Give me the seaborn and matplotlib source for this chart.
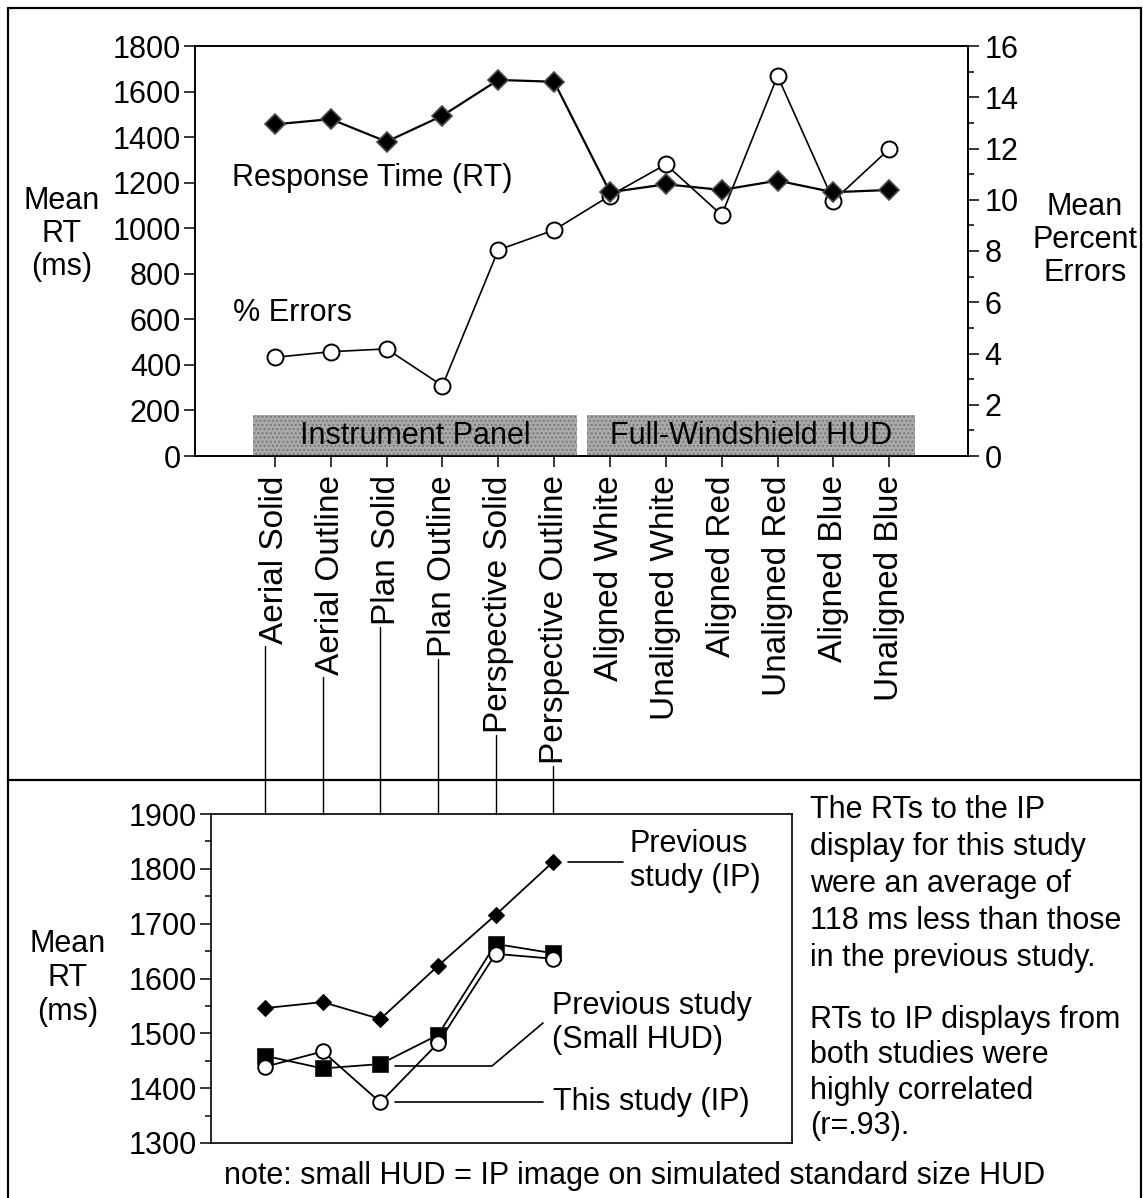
import numpy as np
import pandas as pd
import matplotlib
matplotlib.use("Agg")
import matplotlib.pyplot as plt
import seaborn as sns
from matplotlib.lines import Line2D
from matplotlib.patches import Rectangle
from matplotlib.ticker import MultipleLocator

# ---- data -------------------------------------------------------------
categories = ["Aerial Solid", "Aerial Outline", "Plan Solid", "Plan Outline",
              "Perspective Solid", "Perspective Outline", "Aligned White",
              "Unaligned White", "Aligned Red", "Unaligned Red",
              "Aligned Blue", "Unaligned Blue"]
rt_ms = [1456, 1479, 1380, 1494, 1651, 1643, 1158, 1193, 1168, 1209, 1158, 1168]
error_pct = [3.85, 4.07, 4.18, 2.74, 8.04, 8.82, 10.16, 11.38, 9.40, 14.83, 9.96, 11.98]

band_labels = ["Instrument Panel", "Full-Windshield HUD"]

ip_conditions = categories[:6]
prev_ip_rt = [1546, 1557, 1526, 1623, 1716, 1813]
prev_small_hud_rt = [1459, 1436, 1444, 1497, 1663, 1646]
this_ip_rt = [1439, 1467, 1374, 1482, 1645, 1636]

rt_ticks = list(range(0, 1801, 200))
err_ticks = list(range(0, 17, 2))
cmp_ticks = list(range(1300, 1901, 100))

# ---- style ------------------------------------------------------------
sns.set_theme(style="white")
plt.rcParams["font.family"] = ["Liberation Sans", "DejaVu Sans"]
plt.rcParams["axes.edgecolor"] = "black"
plt.rcParams["axes.linewidth"] = 1.2
plt.rcParams["xtick.color"] = "black"
plt.rcParams["ytick.color"] = "black"
plt.rcParams["text.color"] = "black"
FS = 22

W, H = 1143, 1198
fig = plt.figure(figsize=(W / 100, H / 100), dpi=100)


def fx(x):
    return x / W


def fy(y):
    return 1 - y / H


def frac_rect(l, t, r, b):
    return [fx(l), fy(b), fx(r) - fx(l), fy(t) - fy(b)]


# ---- top panel: RT and % errors --------------------------------------
top_df = pd.DataFrame({"pos": np.arange(len(categories)), "rt": rt_ms,
                       "err": error_pct})

ax1 = fig.add_axes(frac_rect(195, 46, 968, 456))
ax2 = ax1.twinx()

sns.lineplot(data=top_df, x="pos", y="err", ax=ax2, color="black", lw=1.2,
             marker="o", markersize=11.5, markerfacecolor="white",
             markeredgecolor="black", markeredgewidth=1.4)
sns.lineplot(data=top_df, x="pos", y="rt", ax=ax1, color="black", lw=1.6,
             marker="D", markersize=10, markerfacecolor="black",
             markeredgecolor="#4a4a4a", markeredgewidth=1.2)

ax1.set_zorder(ax2.get_zorder() + 1)
ax1.patch.set_visible(False)

ax1.set_xlim(-1.43, 12.41)
ax1.set_ylim(0, 1800)
ax2.set_ylim(0, 16)
ax1.set_yticks(rt_ticks)
ax2.set_yticks(err_ticks)
ax2.yaxis.set_minor_locator(MultipleLocator(1))
ax1.set_xticks(top_df["pos"])
ax1.set_xticklabels(categories, rotation=90, fontsize=24)
ax1.tick_params(axis="x", direction="out", length=8, width=1.1, pad=6,
                bottom=True)
ax1.tick_params(axis="y", direction="out", length=8, width=1.1,
                labelsize=FS, pad=2, left=True)
ax2.tick_params(axis="y", which="major", direction="out", length=8,
                width=1.1, labelsize=FS, pad=4, right=True)
ax2.tick_params(axis="y", which="minor", direction="out", length=4,
                width=1.1, right=True)
for a in (ax1, ax2):
    a.set_xlabel("")
    a.set_ylabel("")
    for s in a.spines.values():
        s.set_color("black")
        s.set_linewidth(1.2)

# shaded group bands along the bottom of the top panel
n_ip = len(ip_conditions)
band_spans = [(-0.39, n_ip - 1 + 0.41), (n_ip - 0.41, len(categories) - 1 + 0.46)]
for (x0, x1), lab in zip(band_spans, band_labels):
    ax1.add_patch(Rectangle((x0, 0), x1 - x0, 180, facecolor="#aaaaaa",
                            edgecolor="#777777", hatch="....", lw=0,
                            zorder=1))
    ax1.text((x0 + x1) / 2, 88, lab, ha="center", va="center", fontsize=FS,
             color="black", zorder=2)

fig.text(fx(232), fy(178), "Response Time (RT)", fontsize=FS, ha="left",
         va="center")
fig.text(fx(233), fy(313), "% Errors", fontsize=FS, ha="left", va="center")
fig.text(fx(62), fy(234), "Mean\nRT\n(ms)", fontsize=FS, ha="center",
         va="center", multialignment="center", linespacing=1.12)
fig.text(fx(1085), fy(240), "Mean\nPercent\nErrors", fontsize=FS,
         ha="center", va="center", multialignment="center", linespacing=1.15)

# ---- bottom panel: comparison with previous study ---------------------
cmp_df = pd.DataFrame({"pos": np.arange(n_ip), "prev_ip": prev_ip_rt,
                       "small_hud": prev_small_hud_rt, "this_ip": this_ip_rt})

ax3 = fig.add_axes(frac_rect(211, 814, 792, 1143))
sns.lineplot(data=cmp_df, x="pos", y="prev_ip", ax=ax3, color="black",
             lw=1.3, marker="D", markersize=8.5, markerfacecolor="black",
             markeredgecolor="black")
sns.lineplot(data=cmp_df, x="pos", y="small_hud", ax=ax3, color="black",
             lw=1.3, marker="s", markersize=11, markerfacecolor="black",
             markeredgecolor="#333333")
sns.lineplot(data=cmp_df, x="pos", y="this_ip", ax=ax3, color="black",
             lw=1.3, marker="o", markersize=10.5, markerfacecolor="white",
             markeredgecolor="black", markeredgewidth=1.4)
ax3.set_xlim(-0.937, 9.14)
ax3.set_ylim(1300, 1900)
ax3.set_yticks(cmp_ticks)
ax3.yaxis.set_minor_locator(MultipleLocator(50))
ax3.set_xticks([])
ax3.tick_params(axis="y", which="major", direction="out", length=8,
                width=1.1, labelsize=FS, pad=2, left=True)
ax3.tick_params(axis="y", which="minor", direction="out", length=4,
                width=1.1, left=True)
ax3.set_xlabel("")
ax3.set_ylabel("")
for s in ax3.spines.values():
    s.set_color("black")
    s.set_linewidth(1.2)

fig.text(fx(68), fy(978), "Mean\nRT\n(ms)", fontsize=FS, ha="center",
         va="center", multialignment="center", linespacing=1.17)

# series labels with leader lines
fig.text(fx(630), fy(861), "Previous\nstudy (IP)", fontsize=FS, ha="left",
         va="center", linespacing=1.17)
fig.text(fx(552), fy(1023), "Previous study\n(Small HUD)", fontsize=FS,
         ha="left", va="center", linespacing=1.17)
fig.text(fx(553), fy(1102), "This study (IP)", fontsize=FS, ha="left",
         va="center")


def fig_line(xs, ys, lw=1.2):
    fig.add_artist(Line2D([fx(v) for v in xs], [fy(v) for v in ys],
                          transform=fig.transFigure, color="black", lw=lw))


fig_line([568, 623], [862, 862])
fig_line([395, 492, 543], [1066, 1066, 1023])
fig_line([395, 543], [1102, 1102])

# explanatory notes
fig.text(fx(810), fy(884),
         "The RTs to the IP\ndisplay for this study\nwere an average of\n"
         "118 ms less than those\nin the previous study.",
         fontsize=FS, ha="left", va="center", linespacing=1.31)
fig.text(fx(810), fy(1073),
         "RTs to IP displays from\nboth studies were\nhighly correlated\n(r=.93).",
         fontsize=FS, ha="left", va="center", linespacing=1.22)
fig.text(fx(635), fy(1176),
         "note: small HUD = IP image on simulated standard size HUD",
         fontsize=FS, ha="center", va="center")

# ---- frame, divider and connectors ------------------------------------
fig_line([8, 1141], [8, 8], lw=1.6)
fig_line([8, 8], [8, 1198], lw=1.6)
fig_line([1141, 1141], [8, 1198], lw=1.6)
fig_line([8, 1141], [780, 780], lw=1.6)

fig.canvas.draw()
renderer = fig.canvas.get_renderer()
labels = ax1.get_xticklabels()
ax3_top = ax3.transAxes.transform((0, 1))[1]
for i in range(n_ip):
    bb = labels[i].get_window_extent(renderer)
    x_disp = ax3.transData.transform((i, 1900))[0]
    fig.add_artist(Line2D([x_disp / fig.bbox.width] * 2,
                          [(bb.y0 - 2) / fig.bbox.height,
                           ax3_top / fig.bbox.height],
                          transform=fig.transFigure, color="black", lw=1.0))

fig.savefig("out.png", dpi=100, facecolor="white")
